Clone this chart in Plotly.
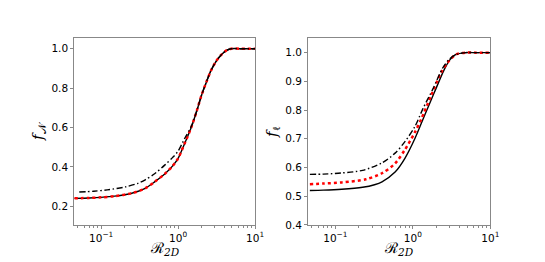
import plotly.graph_objects as go

# Left panel data (f_N vs R_2D)
xL_solid = [0.045, 0.07, 0.1, 0.15, 0.25, 0.374, 0.5, 0.675, 0.85, 1.0, 1.22, 1.48, 1.75, 2.0, 2.35, 2.68, 3.1, 3.6, 4.2, 4.9, 6.5, 8.0, 10.0]
yL_solid = [0.240, 0.242, 0.245, 0.251, 0.266, 0.291, 0.325, 0.365, 0.405, 0.443, 0.52, 0.60, 0.685, 0.76, 0.835, 0.89, 0.935, 0.967, 0.99, 1.0, 1.0, 1.0, 1.0]
xL_dot = xL_solid
yL_dot = [0.240, 0.242, 0.245, 0.251, 0.266, 0.291, 0.325, 0.365, 0.405, 0.443, 0.52, 0.60, 0.685, 0.76, 0.835, 0.89, 0.935, 0.967, 0.99, 1.0, 1.0, 1.0, 1.0]
xL_dash = [0.052, 0.08, 0.12, 0.207, 0.3, 0.374, 0.5, 0.675, 0.85, 1.0, 1.22, 1.48, 1.75, 2.0, 2.35, 2.68, 3.1, 3.6, 4.2, 4.9, 6.5, 8.0, 10.0]
yL_dash = [0.272, 0.276, 0.283, 0.298, 0.316, 0.334, 0.366, 0.410, 0.448, 0.48, 0.545, 0.605, 0.685, 0.76, 0.835, 0.89, 0.935, 0.967, 0.99, 1.0, 1.0, 1.0, 1.0]

# Right panel data (f_l vs R_2D)
xR_solid = [0.047, 0.07, 0.121, 0.225, 0.32, 0.40, 0.59, 0.79, 1.06, 1.42, 1.89, 2.53, 3.0, 3.56, 4.8, 6.5, 10.0]
yR_solid = [0.520, 0.521, 0.524, 0.531, 0.540, 0.550, 0.584, 0.632, 0.700, 0.782, 0.861, 0.94, 0.975, 0.993, 1.0, 1.0, 1.0]
xR_dot = [0.047, 0.07, 0.121, 0.248, 0.40, 0.59, 0.79, 1.06, 1.29, 1.72, 2.3, 2.8, 3.56, 4.8, 6.5, 10.0]
yR_dot = [0.542, 0.544, 0.548, 0.559, 0.580, 0.614, 0.662, 0.722, 0.77, 0.85, 0.929, 0.965, 0.993, 1.0, 1.0, 1.0]
xR_dash = [0.047, 0.07, 0.121, 0.225, 0.40, 0.59, 0.79, 1.06, 1.35, 1.81, 2.42, 2.9, 3.56, 4.8, 6.5, 10.0]
yR_dash = [0.576, 0.577, 0.581, 0.590, 0.616, 0.650, 0.690, 0.742, 0.805, 0.873, 0.946, 0.975, 0.993, 1.0, 1.0, 1.0]

xtick_vals = [0.1, 1, 10]
xtick_text = ["10<sup>\u22121</sup>", "10<sup>0</sup>", "10<sup>1</sup>"]
minor_vals = [m * 10 ** e for e in (-2, -1, 0) for m in range(2, 10)]
yL_ticks = [0.2, 0.4, 0.6, 0.8, 1.0]
yR_ticks = [0.4, 0.5, 0.6, 0.7, 0.8, 0.9, 1.0]
x_title = "\u211b<sub><i>2D</i></sub>"

fig = go.Figure()

def add(x, y, xa, ya, style):
    if style == "solid":
        line = dict(color="black", width=1.4, dash="solid")
    elif style == "dot":
        line = dict(color="red", width=2.5, dash="dot")
    else:
        line = dict(color="black", width=1.4, dash="6px,2.5px,1.5px,2.5px")
    fig.add_trace(go.Scatter(x=x, y=y, mode="lines", line=line, xaxis=xa, yaxis=ya,
                             showlegend=False, line_shape="spline", line_smoothing=0.8))

add(xL_solid, yL_solid, "x", "y", "solid")
add(xL_dot, yL_dot, "x", "y", "dot")
add(xL_dash, yL_dash, "x", "y", "dash")
add(xR_solid, yR_solid, "x2", "y2", "solid")
add(xR_dot, yR_dot, "x2", "y2", "dot")
add(xR_dash, yR_dash, "x2", "y2", "dash")

font = dict(family="DejaVu Sans", size=10.5, color="black")
axcommon = dict(showline=True, linecolor="#888", linewidth=1, mirror=True, showgrid=False,
                zeroline=False, ticks="outside", ticklen=3, tickcolor="#888", tickfont=font)
xmin, xmax = -1.35, 1.0
title_font = dict(family="DejaVu Serif", size=15, color="black")

fig.update_layout(
    width=545, height=262,
    margin=dict(l=0, r=0, t=0, b=0),
    paper_bgcolor="white", plot_bgcolor="white",
    xaxis=dict(domain=[0.1235, 0.461], type="log", range=[xmin, xmax], anchor="y",
               tickvals=xtick_vals, ticktext=xtick_text,
               minor=dict(tickvals=minor_vals, ticks="outside", ticklen=2, tickcolor="#888"),
               **axcommon),
    yaxis=dict(domain=[0.1527, 0.8817], range=[0.105, 1.053], anchor="x",
               tickvals=yL_ticks, ticktext=["0.2", "0.4", "0.6", "0.8", "1.0"],
               title=dict(text="<i>f</i><sub>\U0001D4A9</sub>", font=title_font, standoff=4),
               **axcommon),
    xaxis2=dict(domain=[0.560, 0.900], type="log", range=[xmin, xmax], anchor="y2",
                tickvals=xtick_vals, ticktext=xtick_text,
                minor=dict(tickvals=minor_vals, ticks="outside", ticklen=2, tickcolor="#888"),
                **axcommon),
    yaxis2=dict(domain=[0.1527, 0.8817], range=[0.4, 1.05], anchor="x2",
                tickvals=yR_ticks, ticktext=["0.4", "0.5", "0.6", "0.7", "0.8", "0.9", "1.0"],
                title=dict(text="<i>f</i><sub>\u2113</sub>", font=title_font, standoff=4),
                **axcommon),
    annotations=[
        dict(text=x_title, xref="x domain", yref="paper", x=0.5, y=1 - 246 / 262,
             showarrow=False, font=title_font, xanchor="center", yanchor="middle"),
        dict(text=x_title, xref="x2 domain", yref="paper", x=0.5, y=1 - 246 / 262,
             showarrow=False, font=title_font, xanchor="center", yanchor="middle"),
    ],
)

fig.write_html("out.html")
